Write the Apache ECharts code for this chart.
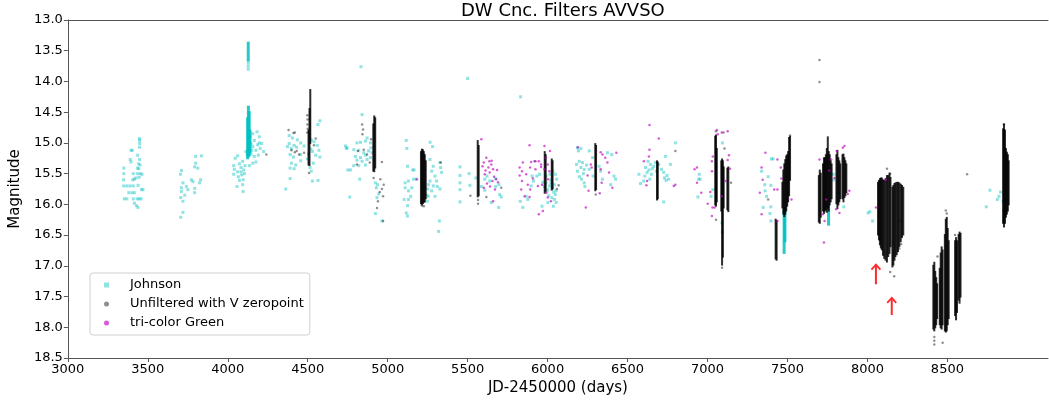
<!DOCTYPE html>
<html>
<head>
<meta charset="utf-8">
<script src="https://cdn.jsdelivr.net/npm/echarts@6/dist/echarts.min.js"></script>
<style>
html,body{margin:0;padding:0;background:#fff;}
#chart{width:1049px;height:401px;}
</style>
</head>
<body>
<div id="chart"></div>
<script>
// ---------- DATA (JD-2450000, magnitude) ----------
const xTickValues = [3000,3500,4000,4500,5000,5500,6000,6500,7000,7500,8000,8500];
const legendNames = ['Johnson','Unfiltered with V zeropoint','tri-color Green'];

const johnsonPts = [
 [3448,14.93],[3448,14.96],[3449,15.01],[3395,15.12],[3403,15.12],[3448,15.07],[3436,15.20],[3390,15.27],[3395,15.31],[3448,15.27],
 [3442,15.34],[3452,15.36],[3436,15.41],[3443,15.42],[3350,15.41],[3409,15.50],[3436,15.50],[3454,15.50],[3464,15.51],[3350,15.50],
 [3406,15.60],[3416,15.59],[3426,15.57],[3446,15.56],[3348,15.60],[3369,15.70],[3389,15.70],[3409,15.70],[3439,15.69],[3349,15.70],
 [3470,15.76],[3461,15.76],[3381,15.81],[3401,15.81],[3416,15.81],[3434,15.91],[3446,15.91],[3458,15.91],[3353,15.91],[3369,15.91],
 [3409,15.91],[3416,15.98],[3438,16.05],[3429,16.02],
 [3835,15.21],[3799,15.22],[3799,15.33],[3793,15.39],[3813,15.41],[3710,15.45],[3704,15.51],[3772,15.60],[3782,15.63],[3830,15.60],
 [3824,15.65],[3720,15.65],[3710,15.73],[3741,15.71],[3793,15.74],[3710,15.79],[3731,15.85],[3793,15.81],[3706,15.89],[3720,15.95],
 [3720,16.13],[3706,16.21],[3751,15.76],
 [4046,15.25],[4062,15.21],[4037,15.37],[4073,15.34],[4093,15.30],[4041,15.43],[4062,15.47],[4083,15.47],[4100,15.44],[4037,15.51],
 [4066,15.55],[4087,15.52],[4104,15.50],[4096,15.60],[4058,15.71],[4093,15.68],[4096,15.79],[4121,15.19],[4114,15.14],[4083,15.40],
 [4108,15.37],[4073,15.61],
 [4183,14.82],[4156,14.85],[4197,14.90],[4212,15.01],[4166,14.96],[4187,15.03],[4156,15.06],[4176,15.12],[4203,15.09],[4224,15.14],
 [4146,15.18],[4166,15.22],[4191,15.20],[4156,15.33],[4176,15.31],[4135,15.37],[4146,15.01],[4141,14.90],[4197,15.00],[4150,15.12],
 [4128,13.70],[4128,13.75],[4128,13.80],
 [4576,14.64],[4564,14.70],[4384,14.88],[4404,14.92],[4435,14.95],[4384,15.01],[4415,15.04],[4456,15.00],[4373,15.06],[4398,15.09],
 [4431,15.07],[4477,15.05],[4522,14.95],[4539,14.98],[4560,15.04],[4570,15.12],[4529,15.14],[4550,15.20],[4576,15.23],[4390,15.19],
 [4411,15.23],[4456,15.19],[4498,15.26],[4535,15.33],[4398,15.33],[4425,15.36],[4390,15.41],[4415,15.42],[4522,15.46],[4529,15.62],
 [4564,15.61],[4390,15.58],[4363,15.75],[4514,15.40],[4456,15.29],[4520,15.10],[4505,15.18],
 [4736,15.05],[4746,15.08],[4742,15.09],[4808,15.00],[4830,14.99],[4871,14.92],[4861,14.97],[4788,15.11],[4819,15.12],[4850,15.16],
 [4881,15.13],[4798,15.22],[4830,15.24],[4861,15.20],[4892,15.24],[4808,15.28],[4840,15.30],[4871,15.27],[4788,15.37],[4819,15.37],
 [4861,15.36],[4751,15.44],[4767,15.44],[4825,15.59],[4763,15.88],[4892,15.00],[4896,15.08],[4902,15.16],[4833,13.76],[4840,14.54],
 [4923,15.65],[4937,15.68],[4929,15.73],[4944,15.83],[4933,15.89],[4923,16.15],[4964,16.27],
 [5116,14.96],[5120,15.09],[5157,15.44],[5165,15.44],[5124,15.38],[5109,15.65],[5130,15.62],[5161,15.59],[5109,15.73],[5130,15.78],
 [5144,15.87],[5103,15.92],[5130,15.92],[5124,16.02],[5116,16.14],[5124,16.19],[5265,14.99],[5281,15.06],[5265,15.27],[5285,15.38],
 [5327,15.32],[5331,15.40],[5337,15.48],[5275,15.46],[5296,15.54],[5265,15.62],[5285,15.70],[5310,15.71],[5327,15.75],[5306,15.62],
 [5275,15.78],[5254,15.87],[5296,15.87],[5323,16.27],[5318,16.44],[5182,15.59],[5151,15.73],[5250,15.75],[5245,15.85],[5255,15.68],
 [5248,15.95],
 [5452,15.39],[5452,15.53],[5452,15.65],[5452,15.76],[5452,15.96],[5509,15.50],[5514,15.69],[5551,15.57],[5607,15.59],[5621,15.54],
 [5638,15.62],[5675,15.58],[5696,15.68],[5700,15.84],[5710,15.88],[5675,15.71],[5648,15.97],[5694,16.05],[5607,15.77],[5586,15.71],
 [5499,13.95],[5831,14.25],
 [5829,15.95],[5845,16.05],[5866,15.87],[5897,15.70],[5912,15.62],[5949,15.51],[5933,15.54],[5970,15.64],[5980,15.71],[5990,15.65],
 [6001,15.76],[6011,15.70],[6021,15.65],[6032,15.73],[6042,15.68],[6053,15.78],[6007,15.86],[6026,15.89],[6042,15.92],[6001,15.97],
 [6053,15.97],[5965,16.03],[6036,16.03],[5990,15.54],[6015,15.51],[6032,15.46],[6048,15.51],[6057,15.59],[6048,15.84],[5903,15.54],
 [5876,15.92],[6018,15.60],[6038,15.80],[5995,15.80],
 [6187,15.08],[6208,15.09],[6193,15.13],[6181,15.35],[6198,15.30],[6218,15.32],[6208,15.40],[6229,15.43],[6187,15.46],[6243,15.36],
 [6224,15.50],[6198,15.55],[6212,15.59],[6229,15.65],[6260,15.43],[6285,15.54],[6281,15.24],[6332,15.46],[6343,15.59],[6394,15.68],
 [6401,15.19],[6374,15.16],[6425,15.59],[6415,15.54],[6260,15.13],[6322,15.38],[6233,15.71],
 [6571,15.51],[6581,15.66],[6608,15.54],[6622,15.48],[6633,15.44],[6639,15.59],[6654,15.42],[6649,15.51],[6664,15.38],[6680,15.46],
 [6695,15.35],[6712,15.43],[6726,15.48],[6731,15.57],[6741,15.61],[6747,15.53],[6757,15.59],[6737,15.22],[6768,15.35],[6799,15.00],
 [6726,15.96],[6628,15.30],[6601,15.62],[6643,15.35],[6612,15.40],[6675,15.32],
 [6948,15.51],[6944,15.59],[6954,15.59],[6940,15.88],[7033,15.76],[7022,15.87],[7093,15.00],[7090,16.30],[7092,16.45],
 [7338,15.46],[7400,15.26],[7410,15.26],[7358,15.68],[7396,15.69],[7369,15.87],[7348,16.05],[7396,16.04],[7390,16.15],[7396,16.27],
 [7379,15.55],[7360,15.78],
 [7787,15.51],[7852,16.04],[7815,15.81],[7790,15.60],
 [8004,16.14],[8015,16.12],[8032,16.27],[8209,16.27],
 [8743,16.04],[8766,15.77],[8812,15.92],[8823,15.87],[8832,15.80],[8850,16.27],[8855,16.11],[8848,15.95]
];

// dense Johnson runs: [JD, brightest mag, faintest mag]
const johnsonRuns = [
 [4128,13.37,13.66],[4124,14.60,15.25],[4129,14.41,15.22],[4134,14.50,15.20],[4139,14.80,15.15],
 [7479,16.10,16.79],[7484,16.05,16.60],[7757,16.02,16.33]
];

const unfilteredPts = [
 [4241,15.19],
 [4380,14.79],[4411,14.84],[4419,14.83],[4398,15.12],[4419,15.15],[4446,15.19],[4477,15.16],[4550,14.93],[4508,15.49],[4539,15.04],
 [4431,15.13],[4497,14.55],[4499,14.62],[4498,14.70],[4500,14.77],[4497,14.83],
 [4840,14.70],[4846,14.78],[4842,14.86],[4813,15.13],[4850,15.11],[4871,15.19],[4888,15.32],[4896,14.94],[4808,15.35],
 [4964,15.31],[4912,15.57],[4954,15.59],[4975,15.68],[4964,15.75],[4950,15.80],[4971,15.87],[4939,15.95],[4933,16.06],[4971,16.27],
 [5331,15.32],[5214,16.02],[5226,16.03],
 [5517,15.86],[5617,15.88],[5710,15.73],[5565,15.93],[5565,15.99],
 [5918,15.30],[6069,15.69],[6058,15.75],
 [6301,15.84],[6799,15.13],
 [7100,14.83],[7106,15.09],[7147,15.65],[7053,14.81],[7053,16.25],[7091,17.03],
 [7379,15.92],[7516,14.88],
 [7700,13.65],[7700,14.01],[8623,15.51],
 [8122,15.42],[8142,15.50],[8142,17.10],[8167,17.17],[8199,16.72],[8210,16.65],
 [8418,18.16],[8418,18.22],[8418,18.28],[8470,18.25],[8490,16.10],[8496,16.15],[8438,16.85],[8548,16.50],
 [8853,14.70]
];

// dense Unfiltered runs: [JD, brightest mag, faintest mag]
const unfilteredRuns = [
 [4516,14.14,15.00],[4511,14.45,15.36],[4505,14.80,15.35],
 [4910,14.70,15.45],[4916,14.57,15.46],[4922,14.60,15.40],
 [5208,15.15,15.98],[5214,15.11,16.00],[5220,15.12,15.98],[5226,15.15,15.96],[5232,15.20,15.95],[5238,15.30,15.90],
 [5563,14.97,15.87],[5569,15.05,15.85],
 [5982,15.15,15.81],[5988,15.20,15.78],[6026,15.27,15.76],[6031,15.30,15.74],
 [6298,15.02,15.77],[6303,15.05,15.75],
 [6684,15.30,15.92],[6689,15.32,15.90],
 [7048,14.90,16.00],[7053,14.88,16.02],[7058,15.10,15.95],
 [7086,15.30,16.10],[7091,15.27,16.98],[7096,15.30,16.85],[7101,15.40,16.05],
 [7124,15.42,16.08],[7130,15.40,16.11],
 [7426,16.25,16.88],[7432,16.27,16.90],
 [7468,15.65,16.05],[7474,15.45,16.15],[7480,15.35,16.19],[7486,15.28,16.15],[7492,15.22,16.10],[7498,15.20,16.02],[7504,15.15,15.95],[7510,14.92,15.85],[7516,14.90,15.60],
 [7696,15.54,16.28],[7702,15.45,16.30],[7708,15.50,16.20],
 [7722,15.35,16.10],[7728,15.25,16.14],[7734,15.25,16.10],[7740,15.20,16.08],[7746,15.10,16.12],[7752,14.91,16.05],[7758,15.15,16.10],[7764,15.20,16.00],[7770,15.30,15.95],[7776,15.35,15.90],
 [7806,15.20,15.98],[7812,15.13,16.06],[7818,15.25,16.00],[7824,15.30,15.95],[7830,15.35,15.90],
 [7844,15.20,15.90],[7850,15.19,15.95],[7856,15.25,15.88],[7862,15.30,15.85],[7868,15.35,15.80],
 [8066,15.65,16.49],[8072,15.62,16.57],[8078,15.59,16.65],[8084,15.58,16.70],[8090,15.58,16.73],[8097,15.61,16.82],[8105,15.62,16.87],
 [8113,15.59,16.90],[8122,15.54,16.93],[8130,15.54,16.84],[8138,15.50,16.79],[8144,15.57,16.68],
 [8156,15.73,17.01],[8162,15.70,16.98],[8169,15.67,16.90],[8175,15.66,16.84],[8183,15.65,16.81],[8191,15.65,16.76],[8199,15.66,16.68],
 [8208,15.68,16.60],[8216,15.70,16.53],[8224,15.73,16.49],
 [8412,17.00,18.02],[8418,16.95,18.05],[8424,17.10,18.00],[8430,17.20,17.95],[8436,17.30,17.85],
 [8452,17.05,17.95],[8458,16.80,18.00],[8464,16.70,18.02],[8470,16.75,17.95],
 [8484,16.50,18.05],[8490,16.25,18.07],[8496,16.22,18.05],[8502,16.40,17.95],[8508,16.60,17.85],
 [8548,16.60,17.80],[8554,16.55,17.87],[8560,16.60,17.75],
 [8570,16.50,17.55],[8576,16.46,17.60],[8582,16.48,17.50],
 [8848,14.78,16.30],[8854,14.70,16.36],[8860,14.80,16.30],[8866,15.10,16.20],[8872,15.16,16.15],[8878,15.20,16.10],[8883,15.30,16.00]
];

const greenPts = [
 [5180,15.59],
 [5586,14.94],[5617,15.24],[5636,15.30],[5650,15.29],[5601,15.32],[5593,15.38],[5630,15.40],[5659,15.43],[5684,15.44],[5638,15.48],
 [5607,15.51],[5665,15.55],[5678,15.59],[5655,15.62],[5621,15.66],[5640,15.71],[5671,15.76],[5601,15.73],[5659,15.95],[5690,15.64],
 [5612,15.45],[5648,15.35],
 [5887,15.04],[5980,15.05],[6015,15.13],[5924,15.30],[5897,15.31],[5945,15.30],[5845,15.32],[5825,15.40],[5990,15.24],[6001,15.35],
 [5959,15.39],[5891,15.40],[5924,15.43],[5980,15.43],[6011,15.46],[5840,15.46],[5866,15.51],[5825,15.53],[5908,15.58],[6001,15.59],
 [5840,15.62],[5876,15.68],[5939,15.70],[5965,15.68],[5835,15.76],[5891,15.76],[5990,15.81],[5856,15.87],[6001,15.89],[6021,15.95],
 [5970,16.11],[5945,16.16],[5887,15.88],[5959,15.35],
 [6189,15.07],[6332,15.15],[6343,15.19],[6430,15.16],[6360,15.24],[6276,15.40],[6270,15.35],[6332,15.43],[6374,15.32],[6384,15.48],
 [6338,15.65],[6405,15.73],[6256,15.78],[6326,15.82],[6239,16.05],[6250,15.53],
 [6637,14.71],[6695,14.93],[6637,15.11],[6633,15.22],[6602,15.30],[6622,15.62],[6618,15.69],[6799,15.68],[6789,15.70],
 [6919,15.43],[6934,15.40],[6934,15.65],[6961,15.81],[7001,15.99],[7017,15.80],[7028,15.46],[7027,15.30],[7033,15.22],[7027,16.19],
 [7031,16.05],[7058,14.79],[7064,14.86],[7089,14.83],[7126,14.81],[7134,15.20],[7126,15.28],[7141,15.42],[7114,15.62],[7089,15.87],
 [7044,16.05],
 [7362,15.16],[7338,15.40],[7327,15.81],[7338,16.16],[7417,15.76],[7437,15.76],[7437,15.27],[7462,15.58],[7525,15.92],[7437,16.27],
 [7345,15.60],[7458,15.40],
 [7700,15.27],[7728,16.62],[7742,15.92],[7773,15.27],[7808,15.13],[7856,15.05],[7846,15.08],[7804,16.08],[7825,16.14],[7887,15.78],
 [7877,15.83],[7732,16.27],[7721,16.16],[7794,15.57],[7760,15.45],
 [8115,15.60],[8053,16.05]
];

// annotation arrows: [JD, tail mag, tip mag]
const arrowMarks = [[8053,17.30,16.98],[8152,17.80,17.52]];

// ---------- CHART ----------
const FONT = 'DejaVu Sans';
const chart = echarts.init(document.getElementById('chart'), null, {renderer:'canvas'});

function runRenderer(width, color){
  return function(params, api){
    const x = api.value(0);
    const p1 = api.coord([x, api.value(1)]);
    const p2 = api.coord([x, api.value(2)]);
    const top = Math.min(p1[1], p2[1]);
    return {type:'rect', shape:{x:p1[0]-width/2, y:top-1, width:width, height:Math.abs(p2[1]-p1[1])+2}, style:{fill:color}};
  };
}

chart.setOption({
  animation:false,
  backgroundColor:'#fff',
  title:{text:'DW Cnc. Filters AVVSO', left:456, top:-3,
    textStyle:{fontFamily:FONT, fontSize:18, fontWeight:'normal', color:'#000'}},
  legend:{
    data:[{name:legendNames[0], icon:'rect'},{name:legendNames[1], icon:'circle'},{name:legendNames[2], icon:'circle'}],
    orient:'vertical', left:90, top:273, itemWidth:5, itemHeight:5, itemGap:5,
    backgroundColor:'#fff', borderColor:'#d0d0d0', borderWidth:1, borderRadius:3,
    padding:[5,6,5,14], selectedMode:false,
    textStyle:{fontFamily:FONT, fontSize:13, color:'#000', padding:[0,0,0,16], lineHeight:14}
  },
  grid:{left:62, right:1, top:20, bottom:43, containLabel:false},
  xAxis:[{
    type:'value', min:3000, max:9129, position:'bottom',
    name:'JD-2450000 (days)', nameLocation:'middle', nameGap:22,
    nameTextStyle:{fontFamily:FONT, fontSize:15, color:'#000'},
    axisLine:{show:true, onZero:false, lineStyle:{color:'#555', width:1}},
    axisTick:{show:true, length:4, customValues:xTickValues, lineStyle:{color:'#555'}},
    axisLabel:{customValues:xTickValues, fontFamily:FONT, fontSize:13, color:'#000', margin:5, formatter:v=>String(Math.round(v))},
    splitLine:{show:false}
  },{
    type:'value', min:3000, max:9129, position:'top',
    axisLine:{show:true, onZero:false, lineStyle:{color:'#555', width:1}},
    axisTick:{show:false}, axisLabel:{show:false}, splitLine:{show:false}
  }],
  yAxis:{
    type:'value', inverse:true, min:13, max:18.5, interval:0.5,
    name:'Magnitude', nameLocation:'middle', nameGap:38, nameRotate:90,
    nameTextStyle:{fontFamily:FONT, fontSize:15, color:'#000'},
    axisLine:{show:true, onZero:false, lineStyle:{color:'#555', width:1}},
    axisTick:{show:true, length:4, lineStyle:{color:'#555'}},
    axisLabel:{fontFamily:FONT, fontSize:13, color:'#000', margin:5, formatter:v=>v.toFixed(1)},
    splitLine:{show:false}
  },
  series:[
    {name:'unfRuns', type:'custom', renderItem:runRenderer(2,'rgba(0,0,0,0.82)'), data:unfilteredRuns, encode:{x:0,y:[1,2]}, z:3, silent:true},
    {name:'johRuns', type:'custom', renderItem:runRenderer(3,'rgba(0,191,191,0.85)'), data:johnsonRuns, encode:{x:0,y:[1,2]}, z:2, silent:true},
    {name:legendNames[0], type:'scatter', symbol:'rect', symbolSize:3, data:johnsonPts,
      itemStyle:{color:'rgba(0,191,191,0.55)'}, z:2},
    {name:legendNames[1], type:'scatter', symbol:'circle', symbolSize:2.5, data:unfilteredPts,
      itemStyle:{color:'rgba(0,0,0,0.55)'}, z:3},
    {name:legendNames[2], type:'scatter', symbol:'circle', symbolSize:2.5, data:greenPts,
      itemStyle:{color:'rgba(191,0,191,0.8)'}, z:4},
    {name:'arrows', type:'custom', data:arrowMarks, encode:{x:0,y:[1,2]}, z:5, silent:true,
      renderItem:function(params, api){
        const x = api.value(0);
        const tail = api.coord([x, api.value(1)]);
        const tip = api.coord([x, api.value(2)]);
        return {type:'group', children:[
          {type:'line', shape:{x1:tail[0], y1:tail[1], x2:tip[0], y2:tip[1]+1}, style:{stroke:'#ff2a2a', lineWidth:2}},
          {type:'polyline', shape:{points:[[tip[0]-4.5,tip[1]+5],[tip[0],tip[1]],[tip[0]+4.5,tip[1]+5]]}, style:{stroke:'#ff2a2a', lineWidth:1.8, fill:null}}
        ]};
      }}
  ]
});
</script>
</body>
</html>
